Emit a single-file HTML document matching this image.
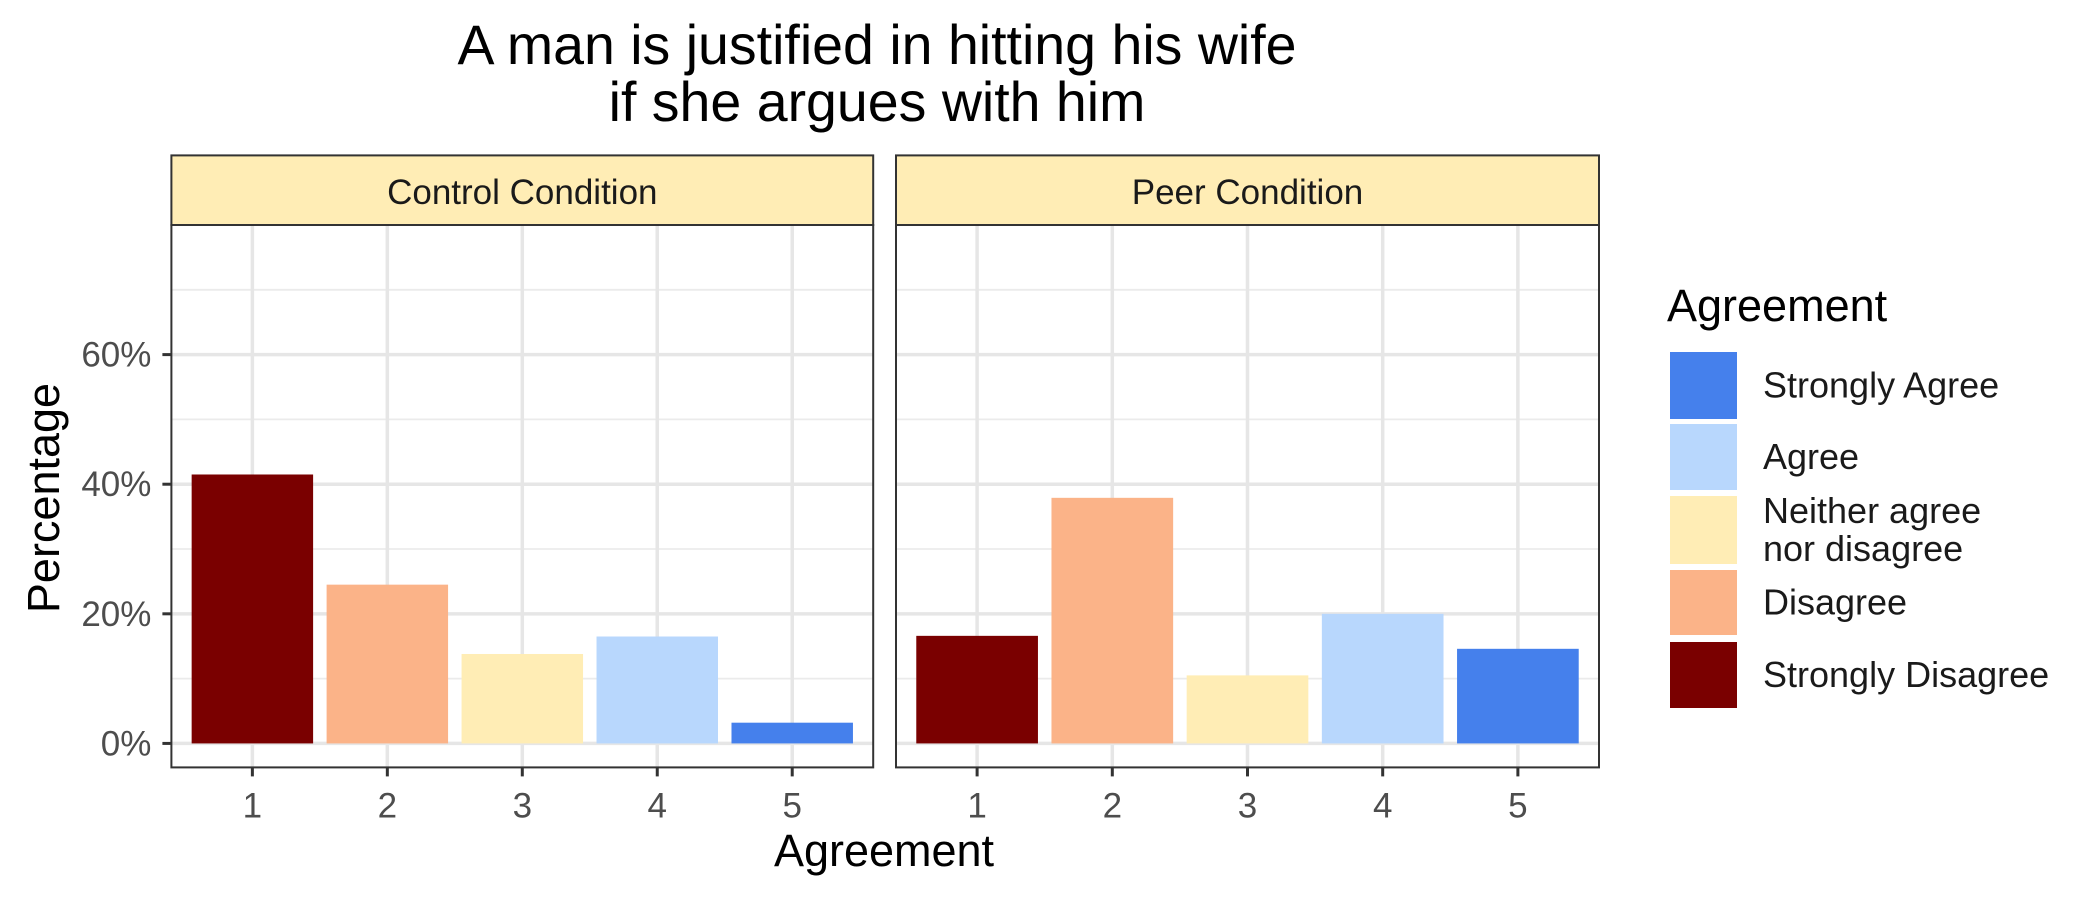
<!DOCTYPE html>
<html><head><meta charset="utf-8"><style>
body{margin:0;background:#fff}
svg{display:block;font-family:"Liberation Sans",Arial,sans-serif}
</style></head><body>
<svg id="chart" width="2100" height="900" xmlns="http://www.w3.org/2000/svg">
<rect width="2100" height="900" fill="#fff"/>
<text x="877" y="64" font-size="55.5" text-anchor="middle" fill="#000">A man is justified in hitting his wife</text>
<text x="877" y="121" font-size="55.5" text-anchor="middle" fill="#000">if she argues with him</text>
<g id="panels"></g>
<text transform="translate(59,498) rotate(-90)" font-size="45" text-anchor="middle" fill="#000">Percentage</text>
<text x="884" y="866" font-size="45" text-anchor="middle" fill="#000">Agreement</text>
<g id="legend"></g>
</svg>
<script>
const categories = [1, 2, 3, 4, 5];
const panelNames = ["Control Condition", "Peer Condition"];
const controlValues = [41.5, 24.5, 13.8, 16.5, 3.2];
const peerValues = [16.6, 37.9, 10.5, 20.0, 14.6];
const yTicks = [0, 20, 40, 60];
const yMinor = [10, 30, 50, 70];
const levelNames = ["Strongly Agree", "Agree", "Neither agree\nnor disagree", "Disagree", "Strongly Disagree"];
const levelColors = ["#4580EC", "#B8D7FD", "#FFEDB5", "#FBB388", "#7A0000"];
const barColors = ["#7A0000", "#FBB388", "#FFEDB5", "#B8D7FD", "#4580EC"];

const NS = "http://www.w3.org/2000/svg";
function mk(tag, attrs, parent){const e=document.createElementNS(NS,tag);for(const k in attrs)e.setAttribute(k,attrs[k]);parent.appendChild(e);return e;}
const panelTop=225, panelBot=767.4, stripTop=155.4;
const yMin=-3.7, yMax=80;
function yS(v){return panelBot-(v-yMin)/(yMax-yMin)*(panelBot-panelTop);}
const panelsG=document.getElementById('panels');
const panelX=[[171.4,873.2],[896,1599]];
const allValues=[controlValues,peerValues];
panelX.forEach((px,pi)=>{
  const [x0,x1]=px;
  const step=(x1-x0)/5.2;
  const xS=c=>x0+step*(c-0.4);
  const g=mk('g',{},panelsG);
  
  
  mk('rect',{x:x0,y:panelTop,width:x1-x0,height:panelBot-panelTop,fill:'#fff'},g);
  yMinor.forEach(v=>mk('line',{x1:x0,x2:x1,y1:yS(v),y2:yS(v),stroke:'#ebebeb','stroke-width':1.8},g));
  yTicks.forEach(v=>mk('line',{x1:x0,x2:x1,y1:yS(v),y2:yS(v),stroke:'#e6e6e6','stroke-width':3.5},g));
  categories.forEach(c=>mk('line',{x1:xS(c),x2:xS(c),y1:panelTop,y2:panelBot,stroke:'#e6e6e6','stroke-width':3.5},g));
  allValues[pi].forEach((v,i)=>{
    const c=categories[i];
    const b=mk('rect',{x:xS(c)-step*0.45,width:step*0.9,y:yS(v),height:yS(0)-yS(v),fill:barColors[i]},g);
    
    
  });
  mk('rect',{x:x0,y:panelTop,width:x1-x0,height:panelBot-panelTop,fill:'none',stroke:'#333','stroke-width':2},g);
  const s=mk('rect',{x:x0,y:stripTop,width:x1-x0,height:panelTop-stripTop,fill:'#FFEDB5',stroke:'#333','stroke-width':2},g);
  
  
  const st=mk('text',{x:(x0+x1)/2,y:204,'font-size':35,'text-anchor':'middle',fill:'#1a1a1a'},g);
  st.textContent=panelNames[pi];
  
  
  categories.forEach(c=>{
    mk('line',{x1:xS(c),x2:xS(c),y1:panelBot,y2:panelBot+9,stroke:'#333','stroke-width':3},g);
    const t=mk('text',{x:xS(c),y:panelBot+50,'font-size':35,'text-anchor':'middle',fill:'#4d4d4d'},g);
    t.textContent=c;
    
    
  });
  if(pi===0){
    yTicks.forEach(v=>{
      mk('line',{x1:x0-9,x2:x0,y1:yS(v),y2:yS(v),stroke:'#333','stroke-width':3},g);
      const t=mk('text',{x:x0-20,y:yS(v)+12,'font-size':35,'text-anchor':'end',fill:'#4d4d4d'},g);
      t.textContent=v+'%';
      
      
    });
  }
});
const lg=document.getElementById('legend');
const lt=mk('text',{x:1667,y:321,'font-size':45,fill:'#000'},lg);
lt.textContent='Agreement';


const keyY=[[352,419],[424,490],[496,564],[570,635],[642,708]];
levelNames.forEach((n,i)=>{
  const [a,b]=keyY[i];
  const r=mk('rect',{x:1670,y:a,width:67,height:b-a,fill:levelColors[i]},lg);
  
  
  const lines=n.split('\n');
  const mid=(a+b)/2;
  lines.forEach((ln,j)=>{
    const t=mk('text',{x:1763,y:mid+12+(j-(lines.length-1)/2)*38,'font-size':36,fill:'#1a1a1a'},lg);
    t.textContent=ln;
    
    
  });
});
</script>
</body></html>
